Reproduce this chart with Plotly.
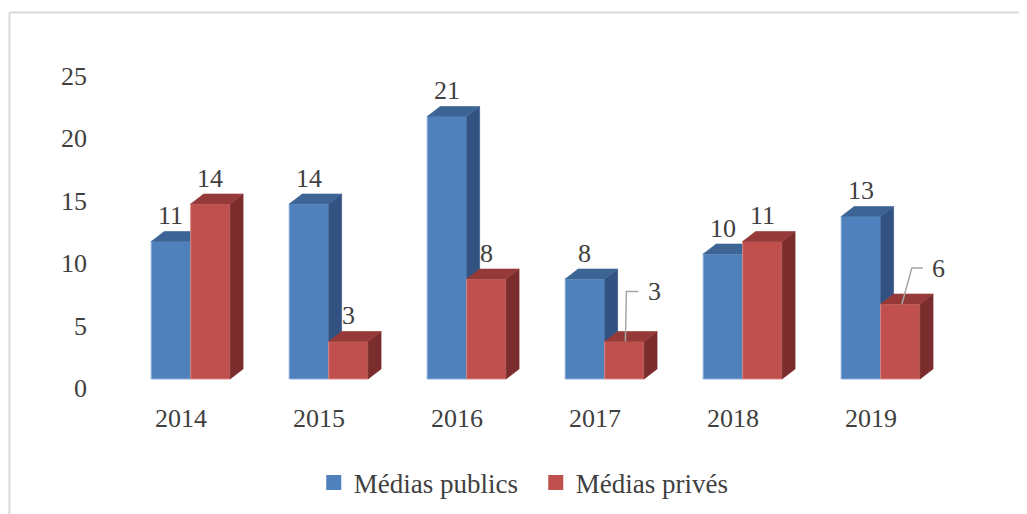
import plotly.graph_objects as go

# ---------------- data ----------------
years = ["2014", "2015", "2016", "2017", "2018", "2019"]
medias_publics = [11, 14, 21, 8, 10, 13]
medias_prives = [14, 3, 8, 3, 11, 6]
series_names = ["Médias publics", "Médias privés"]
y_ticks = [0, 5, 10, 15, 20, 25]

# ---------------- style / geometry ----------------
FONT = "Liberation Serif"
TXT = "#404040"
BAR_W = 0.286          # bar width in category units
GROUP_SHIFT = 0.07     # groups sit slightly right of the category label
DX = 0.094             # 3-D depth, x (category units)
DY = 0.8               # 3-D depth, y (value units)
Y_RANGE = [-1.68, 27.12]
TICK_SHIFT = 0.72      # value-axis labels sit a bit lower than the bar floor
X_RANGE = [-0.587, 5.935]

blue = dict(front="#4F81BD", top="#3C6596", side="#325381", edge="#8DB0DC")
red = dict(front="#C0504D", top="#953A38", side="#7B2D2D", edge="#D98A88")

# per-label pixel shifts (x, y); default sits above the bar
label_shift_default = (0, 26)
label_shift_special = {(1, "2017"): (30, 50), (1, "2019"): (38.5, 36)}
leader_paths = {"2017": "M1,0 L2,50 L14,50", "2019": "M1.5,0 L11.5,36 L22.5,36"}

idx = list(range(len(years)))
left_edges = [
    [i + GROUP_SHIFT - BAR_W for i in idx],
    [i + GROUP_SHIFT for i in idx],
]


def faces(lefts, vals):
    sx, sy, tx, ty = [], [], [], []
    for x0, v in zip(lefts, vals):
        x1 = x0 + BAR_W
        sx += [x1, x1 + DX, x1 + DX, x1, x1, None]
        sy += [0, DY, v + DY, v, 0, None]
        tx += [x0, x0 + DX, x1 + DX, x1, x0, None]
        ty += [v, v + DY, v + DY, v, v, None]
    return sx, sy, tx, ty


fig = go.Figure()

for s, (vals, col) in enumerate([(medias_publics, blue), (medias_prives, red)]):
    xa = "x" if s == 0 else "x2"
    ya = "y" if s == 0 else "y2"
    sx, sy, tx, ty = faces(left_edges[s], vals)
    fig.add_trace(go.Scatter(x=sx, y=sy, fill="toself", mode="lines",
                             fillcolor=col["side"], line=dict(width=0.6, color=col["side"]),
                             showlegend=False, hoverinfo="skip", xaxis=xa, yaxis=ya))
    fig.add_trace(go.Scatter(x=tx, y=ty, fill="toself", mode="lines",
                             fillcolor=col["top"], line=dict(width=0.6, color=col["top"]),
                             showlegend=False, hoverinfo="skip", xaxis=xa, yaxis=ya))
    fig.add_trace(go.Bar(x=idx, y=vals, width=BAR_W, offset=left_edges[s][0] - idx[0],
                         marker=dict(color=col["front"], line=dict(color=col["edge"], width=1)),
                         showlegend=False, xaxis=xa, yaxis=ya))

# legend entries
for name, col in zip(series_names, [blue, red]):
    fig.add_trace(go.Scatter(x=[None], y=[None], mode="markers", name=name,
                             marker=dict(symbol="square", size=15, color=col["front"])))

# data labels and leader lines
annotations = []
shapes = []
for s, vals in enumerate([medias_publics, medias_prives]):
    for i, (yr, v) in enumerate(zip(years, vals)):
        cx = left_edges[s][i] + BAR_W / 2
        xs, ys = label_shift_special.get((s, yr), label_shift_default)
        annotations.append(dict(x=cx, y=v, xref="x", yref="y", text=str(v),
                                showarrow=False, xshift=xs, yshift=ys,
                                font=dict(family=FONT, size=26, color=TXT)))
        if s == 1 and yr in leader_paths:
            shapes.append(dict(type="path", xref="x", yref="y",
                               xsizemode="pixel", ysizemode="pixel",
                               xanchor=cx, yanchor=v, path=leader_paths[yr],
                               line=dict(color="#A6A6A6", width=1.5)))

# outer chart border (left and top edges visible)
shapes.append(dict(type="line", xref="paper", yref="paper", x0=-0.1006, x1=1.05,
                   y0=1.0764, y1=1.0764, line=dict(color="#D9D9D9", width=2)))
shapes.append(dict(type="line", xref="paper", yref="paper", x0=-0.1006, x1=-0.1006,
                   y0=-0.35, y1=1.0764, line=dict(color="#D9D9D9", width=2)))

fig.update_layout(
    width=1019, height=506,
    margin=dict(l=92, r=27, t=32, b=114, autoexpand=False),
    paper_bgcolor="white", plot_bgcolor="white",
    barmode="overlay",
    font=dict(family=FONT, color=TXT, size=26),
    xaxis=dict(range=X_RANGE, tickvals=idx, ticktext=years, showgrid=False,
               zeroline=False, showline=False, ticks="", ticklabelstandoff=0,
               tickfont=dict(family=FONT, size=26, color=TXT)),
    yaxis=dict(range=Y_RANGE, visible=False),
    xaxis2=dict(range=X_RANGE, overlaying="x", visible=False),
    yaxis2=dict(range=Y_RANGE, overlaying="y", visible=False),
    yaxis3=dict(range=[Y_RANGE[0] + TICK_SHIFT, Y_RANGE[1] + TICK_SHIFT], overlaying="y",
                anchor="x", side="left", tickvals=y_ticks, showgrid=False,
                zeroline=False, showline=False, ticks="", ticklabelstandoff=12,
                tickfont=dict(family=FONT, size=26, color=TXT)),
    legend=dict(orientation="h", x=0.2375, y=-0.2306, xanchor="left", yanchor="middle",
                font=dict(family=FONT, size=27, color=TXT), itemwidth=30,
                entrywidth=177, entrywidthmode="pixels"),
    annotations=annotations,
    shapes=shapes,
    showlegend=True,
)
# invisible trace on yaxis3 so the value axis is drawn
fig.add_trace(go.Scatter(x=[None], y=[None], xaxis="x", yaxis="y3", showlegend=False,
                         hoverinfo="skip"))

fig.write_html("out.html")
